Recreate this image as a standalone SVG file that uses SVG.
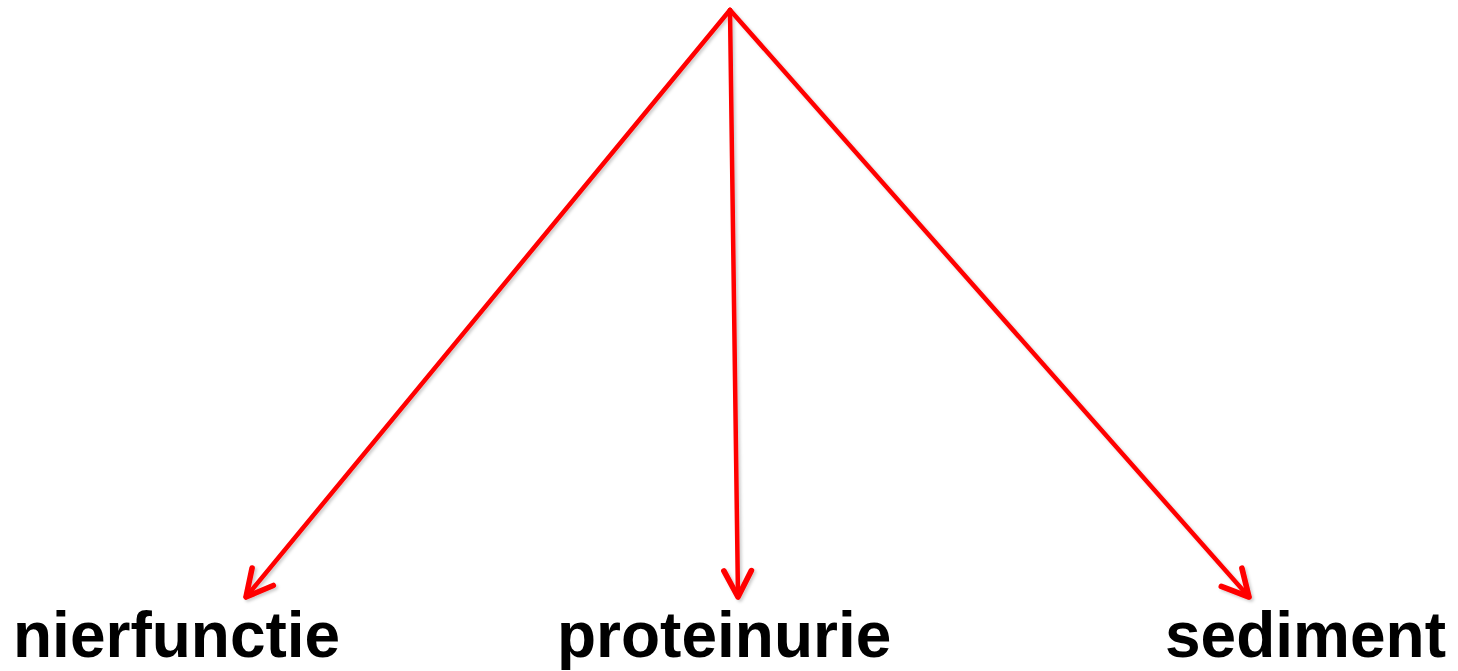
<svg xmlns="http://www.w3.org/2000/svg" width="1458" height="671" viewBox="0 0 1458 671">
  <style>
    .conn { stroke: #ff0000; stroke-width: 4.5; fill: none; stroke-linecap: round; marker-end: url(#arrow); }
    .label { font-family: "Liberation Sans", Arial, sans-serif; font-weight: bold; font-size: 64px; fill: #000000; }
  </style>
  <defs>
    <marker id="arrow" markerUnits="userSpaceOnUse" markerWidth="40" markerHeight="40" viewBox="-28 -16 32 32" refX="0" refY="0" orient="auto">
      <path d="M -21 -11 L 0 0 L -21 11" fill="none" stroke="#ff0000" stroke-width="4.5" stroke-linecap="round" stroke-linejoin="round"/>
    </marker>
    <filter id="shadow" filterUnits="userSpaceOnUse" x="0" y="0" width="1458" height="671">
      <feDropShadow dx="2" dy="2" stdDeviation="1.5" flood-color="#000000" flood-opacity="0.2"/>
    </filter>
  </defs>
  <g id="connectors" filter="url(#shadow)">
    <line class="conn" x1="730" y1="10" x2="246" y2="597"/>
    <line class="conn" x1="730" y1="10" x2="738" y2="597"/>
    <line class="conn" x1="730" y1="10" x2="1249" y2="597"/>
  </g>
  <g id="node-nierfunctie">
    <text class="label" x="13" y="657">nierfunctie</text>
  </g>
  <g id="node-proteinurie">
    <text class="label" x="557" y="657">proteinurie</text>
  </g>
  <g id="node-sediment">
    <text class="label" x="1165" y="657">sediment</text>
  </g>
</svg>
